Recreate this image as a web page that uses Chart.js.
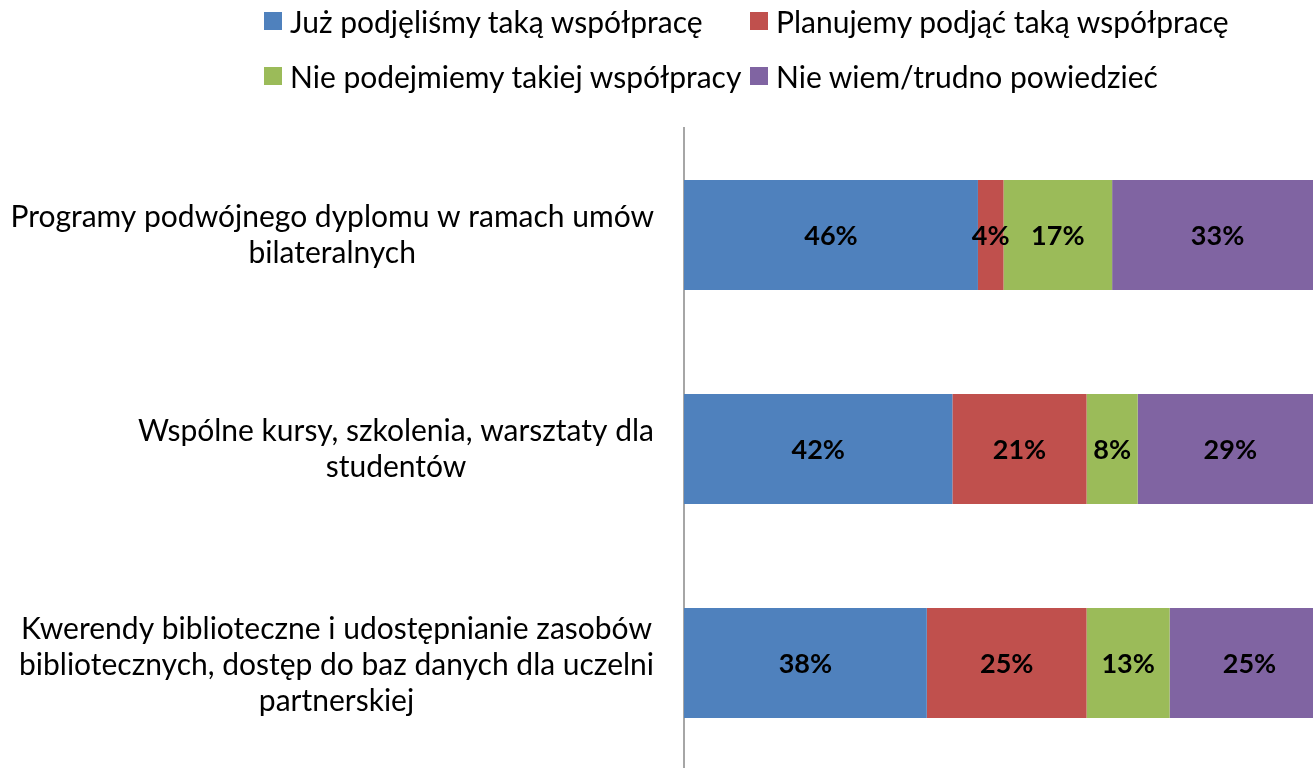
<!DOCTYPE html>
<html>
<head>
<meta charset="utf-8">
<script src="https://cdn.jsdelivr.net/npm/chart.js@4"></script>
<style>
    body { margin: 0; overflow: hidden; background: #fff; }
    #wrap { position: relative; width: 1323px; height: 770px; }
    #legend {
        position: absolute; left: 264px; top: -7px;
        display: grid; grid-template-columns: 486px auto;
        font-family: Lato, sans-serif; font-size: 30px; color: #000;
    }
    .item { height: 55px; display: flex; align-items: center; white-space: nowrap; }
    .box { width: 18px; height: 18px; margin-right: 8px; flex: none; }
</style>
</head>
<body>
<div id="wrap">
    <canvas id="chart" width="1323" height="770"></canvas>
    <div id="legend"></div>
</div>
<script>
/* ================= DATA ================= */
const categories = [
    ["Programy podwójnego dyplomu w ramach umów", "bilateralnych"],
    ["Wspólne kursy, szkolenia, warsztaty dla", "studentów"],
    ["Kwerendy biblioteczne i udostępnianie zasobów", "bibliotecznych, dostęp do baz danych dla uczelni", "partnerskiej"]
];
const seriesNames = [
    "Już podjęliśmy taką współpracę",
    "Planujemy podjąć taką współpracę",
    "Nie podejmiemy takiej współpracy",
    "Nie wiem/trudno powiedzieć"
];
const alreadyDone = [46, 42, 38];
const planned = [4, 21, 25];
const notPlanned = [17, 8, 13];
const dontKnow = [33, 29, 25];
const colors = ["#4f81bd", "#c0504d", "#9bbb59", "#8064a2"];

const FONT = "Lato, sans-serif";

/* ================= LEGEND ================= */
const legend = document.getElementById("legend");
seriesNames.forEach((name, i) => {
    const div = document.createElement("div");
    div.className = "item";
    div.innerHTML = `<span class="box" style="background:${colors[i]}"></span>${name}`;
    legend.appendChild(div);
});

/* ================= LABELS PLUGIN ================= */
const labelsPlugin = {
    id: "labels",
    afterDraw(chart) {
        const ctx = chart.ctx;
        const yScale = chart.scales.y;
        ctx.save();
        ctx.fillStyle = "#000";
        ctx.textBaseline = "middle";
        ctx.textAlign = "center";

        // category labels, each block centered, block right edge 30px left of the axis
        ctx.font = "30px " + FONT;
        categories.forEach((lines, i) => {
            const y = yScale.getPixelForTick(i) + (lines.length > 2 ? 2 : 0);
            const widest = Math.max(...lines.map(l => ctx.measureText(l).width));
            const cx = yScale.right - 30 - widest / 2;
            lines.forEach((line, j) => {
                ctx.fillText(line, cx, y + (j - (lines.length - 1) / 2) * 36);
            });
        });

        // values inside segments
        ctx.font = "bold 27px " + FONT;
        chart.data.datasets.forEach((ds, d) => {
            chart.getDatasetMeta(d).data.forEach((bar, i) => {
                const cx = (bar.x + bar.base) / 2;
                ctx.fillText(Math.round(ds.data[i]) + "%", cx, bar.y + 1);
            });
        });
        ctx.restore();
    }
};

/* ================= CHART ================= */
const datasets = [alreadyDone, planned, notPlanned, dontKnow].map((values, i) => ({
    label: seriesNames[i],
    data: values,
    backgroundColor: colors[i],
    barPercentage: 0.514,
    categoryPercentage: 1
}));

new Chart(document.getElementById("chart"), {
    type: "bar",
    data: { labels: categories, datasets: datasets },
    options: {
        indexAxis: "y",
        responsive: false,
        animation: false,
        layout: { padding: { top: 128, left: 0, right: 0, bottom: 0 } },
        plugins: {
            legend: { display: false },
            tooltip: { enabled: false }
        },
        scales: {
            x: { stacked: true, min: 0, max: 100, display: false },
            y: {
                stacked: true,
                ticks: { display: false },
                grid: { display: false },
                border: { display: true, color: "#a6a6a6", width: 2 },
                afterFit: s => { s.width = 684; }
            }
        }
    },
    plugins: [labelsPlugin]
});
</script>
</body>
</html>
